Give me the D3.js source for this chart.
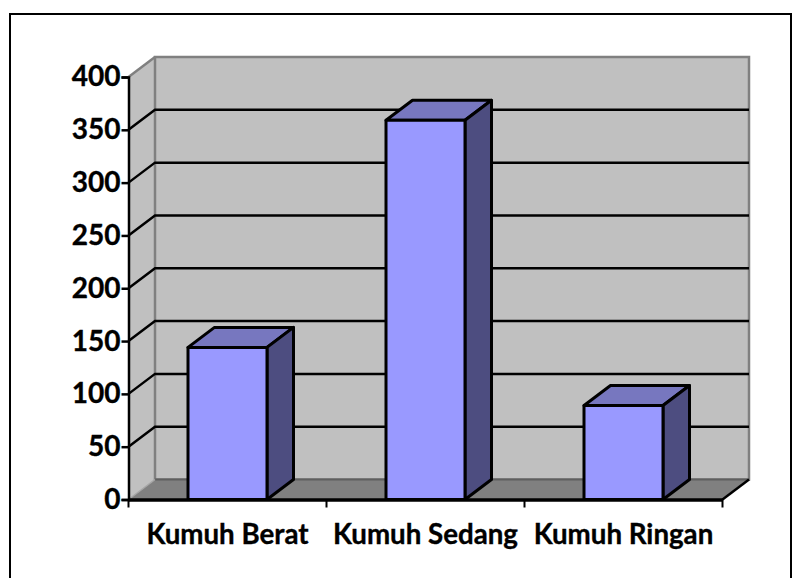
<!DOCTYPE html>
<html>
<head>
	<meta charset="utf-8">
	<title>Kumuh</title>
	<style>
		html, body { margin: 0; padding: 0; background: #fff; }
		svg { display: block; }
		text { font-family: Lato, "Open Sans", sans-serif; font-weight: 700; fill: #000; stroke: #000; stroke-width: 0.35px; }
	</style>
</head>
<body>
	<svg width="806" height="578"></svg>
<script src="https://cdn.jsdelivr.net/npm/d3@7"></script>
<script>
	const categories = ["Kumuh Berat", "Kumuh Sedang", "Kumuh Ringan"]
	const values = [144, 359, 89]
	const yTicks = [0, 50, 100, 150, 200, 250, 300, 350, 400]

	let svg = d3.select("svg")

	//外框
	svg.append("rect")
		.attr("x", 10).attr("y", 14)
		.attr("width", 781).attr("height", 570)
		.attr("fill", "#fff").attr("stroke", "#000").attr("stroke-width", 2)

	//刻度
	let x = d3.scaleBand().domain(categories).range([128.5, 722.5]).paddingInner(0).paddingOuter(0)
	let y = d3.scaleLinear().domain([0, 400]).range([499.5, 77])

	//3D 进深
	const dx = 26.5, dy = -20
	const barW = 79

	const poly = pts => pts.map(p => p.join(",")).join(" ")

	//侧墙
	svg.append("polygon")
		.attr("points", poly([[x.range()[0], y(0)], [x.range()[0], y(400)], [x.range()[0] + dx, y(400) + dy], [x.range()[0] + dx, y(0) + dy]]))
		.attr("fill", "#c0c0c0")
	//后墙
	svg.append("rect")
		.attr("x", x.range()[0] + dx).attr("y", y(400) + dy)
		.attr("width", x.range()[1] - x.range()[0]).attr("height", y(0) - y(400))
		.attr("fill", "#c0c0c0").attr("stroke", "#808080").attr("stroke-width", 2.5)
	//上边缘
	svg.append("line")
		.attr("x1", x.range()[0]).attr("y1", y(400))
		.attr("x2", x.range()[0] + dx).attr("y2", y(400) + dy)
		.attr("stroke", "#808080").attr("stroke-width", 2.5)
	//地面
	svg.append("polygon")
		.attr("points", poly([[x.range()[0], y(0)], [x.range()[1], y(0)], [x.range()[1] + dx, y(0) + dy], [x.range()[0] + dx, y(0) + dy]]))
		.attr("fill", "#808080")
	svg.append("line")
		.attr("x1", x.range()[0] + dx).attr("y1", y(0) + dy)
		.attr("x2", x.range()[1] + dx).attr("y2", y(0) + dy)
		.attr("stroke", "#5f5f5f").attr("stroke-width", 2)
	svg.append("polyline")
		.attr("points", poly([[x.range()[0], y(0)], [x.range()[0] + dx, y(0) + dy]]))
		.attr("stroke", "#a6a6a6").attr("stroke-width", 1.5).attr("fill", "none")
	svg.append("line")
		.attr("x1", x.range()[1]).attr("y1", y(0))
		.attr("x2", x.range()[1] + dx).attr("y2", y(0) + dy)
		.attr("stroke", "#000").attr("stroke-width", 2.5)

	//网格线
	svg.append("g").selectAll("polyline")
		.data(yTicks.filter(d => d > 0 && d < 400))
		.join("polyline")
		.attr("points", d => poly([[x.range()[0], y(d)], [x.range()[0] + dx, y(d) + dy], [x.range()[1] + dx, y(d) + dy]]))
		.attr("fill", "none").attr("stroke", "#000").attr("stroke-width", 2.5)

	//柱子
	let bars = svg.append("g").selectAll("g")
		.data(categories.map((c, i) => ({ c, v: values[i] })))
		.join("g")
	const bx = d => x(d.c) + (x.bandwidth() - barW) / 2
	bars.append("polygon")
		.attr("points", d => poly([[bx(d), y(d.v)], [bx(d) + barW, y(d.v)], [bx(d) + barW + dx, y(d.v) + dy], [bx(d) + dx, y(d.v) + dy]]))
		.attr("fill", "#7777bf")
	bars.append("polygon")
		.attr("points", d => poly([[bx(d) + barW, y(d.v)], [bx(d) + barW + dx, y(d.v) + dy], [bx(d) + barW + dx, y(0) + dy], [bx(d) + barW, y(0)]]))
		.attr("fill", "#4d4d80")
	bars.append("rect")
		.attr("x", bx).attr("y", d => y(d.v))
		.attr("width", barW).attr("height", d => y(0) - y(d.v))
		.attr("fill", "#9999ff")
	bars.selectAll("polygon, rect")
		.attr("stroke", "#000").attr("stroke-width", 3).attr("stroke-linejoin", "round")

	//坐标轴
	let yAxis = svg.append("g")
		.attr("transform", `translate(${x.range()[0]}, 0)`)
		.call(d3.axisLeft(y).tickValues(yTicks).tickSize(7).tickPadding(1).tickFormat(d3.format("d")))
	yAxis.selectAll("path, line").attr("stroke", "#000").attr("stroke-width", 2.5)
	yAxis.selectAll("text").attr("font-size", 28).attr("font-family", null).attr("fill", "#000")

	let xAxis = svg.append("g")
		.attr("transform", `translate(0, ${y(0)})`)
		.call(d3.axisBottom(x).tickValues([]).tickSizeOuter(0))
	xAxis.selectAll("path").attr("stroke", "#000").attr("stroke-width", 3.5)

	//下方刻度线：类别边界
	svg.append("g").selectAll("line")
		.data([...categories.map(c => x(c)), x.range()[1]])
		.join("line")
		.attr("x1", d => d).attr("x2", d => d)
		.attr("y1", y(0)).attr("y2", y(0) + 8)
		.attr("stroke", "#000").attr("stroke-width", 2)

	//类别标签
	svg.append("g").selectAll("text")
		.data(categories)
		.join("text")
		.text(d => d)
		.attr("x", d => x(d) + x.bandwidth() / 2)
		.attr("y", 544)
		.attr("text-anchor", "middle")
		.attr("font-size", 27.7)
</script>
</body>
</html>
